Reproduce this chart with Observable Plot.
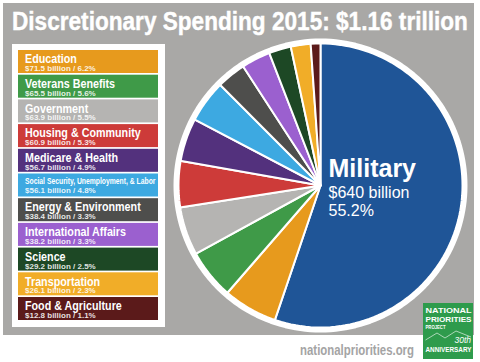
<!DOCTYPE html>
<html><head><meta charset="utf-8">
<script src="https://cdn.jsdelivr.net/npm/d3@7"></script>
<script src="https://cdn.jsdelivr.net/npm/@observablehq/plot@0.6"></script>
<style>
html,body{margin:0;padding:0;background:#fff;}
#wrap{position:relative;width:480px;height:362px;overflow:hidden;background:#fff;font-family:"Liberation Sans",Arial,sans-serif;}
#bg{position:absolute;left:3px;top:3px;width:471px;height:332px;background:#a9a8a6;}
#pie,#over{position:absolute;left:0;top:0;}
</style></head><body>
<div id="wrap"><div id="bg"></div><div id="pie"></div><svg id="over" width="480" height="362"></svg></div>
<script>
// ---- data ----
const titleText = "Discretionary Spending 2015: $1.16 trillion";
const sourceText = "nationalpriorities.org";
const mainName = "Military";
const mainAmount = 640;      // $ billion
const mainPercent = 55.2;
const mainColor = "#1f5597";
const categories = ["Education","Veterans Benefits","Government","Housing & Community","Medicare & Health","Social Security, Unemployment, & Labor","Energy & Environment","International Affairs","Science","Transportation","Food & Agriculture"];
const amounts = [71.5,65.5,63.9,60.9,56.7,56.1,38.4,38.2,29.2,26.1,12.8];
const percents = [6.2,5.6,5.5,5.3,4.9,4.8,3.3,3.3,2.5,2.3,1.1];
const colors = ["#e79a1d","#3f9a48","#b5b4b2","#cd3b39","#53317d","#3da9e1","#4e4e4c","#9b60cf","#1d4825","#f1ad28","#5b1a1a"];

// ---- pie geometry (computed, in unit-circle data space) ----
const slices = [{name: mainName, value: mainAmount}, ...categories.map((c, i) => ({name: c, value: amounts[i]}))];
const arcs = d3.pie().sort(null).value(d => d.value)(slices);
const pts = [];
for (const a of arcs) {
  const n = Math.max(2, Math.ceil((a.endAngle - a.startAngle) / (Math.PI / 180)));
  pts.push({name: a.data.name, x: 0, y: 0});
  for (let k = 0; k <= n; k++) {
    const t = a.startAngle + (a.endAngle - a.startAngle) * k / n;
    pts.push({name: a.data.name, x: Math.sin(t), y: Math.cos(t)});
  }
}
const ring = d3.range(0, 361, 2).map(d => ({x: Math.sin(d * Math.PI / 180), y: Math.cos(d * Math.PI / 180)}));

const cx = 320, cy = 185, R = 144;
const chart = Plot.plot({
  width: 480, height: 362, margin: 0,
  style: {background: "transparent", fontFamily: "'Liberation Sans', Arial, sans-serif"},
  x: {domain: [-1, 1], range: [cx - R, cx + R], axis: null},
  y: {domain: [-1, 1], range: [cy + R, cy - R], axis: null},
  color: {domain: [mainName, ...categories], range: [mainColor, ...colors]},
  marks: [
    Plot.line(pts, {x: "x", y: "y", z: "name", fill: "name", stroke: "white", strokeWidth: 2, curve: "linear-closed", strokeLinejoin: "round"}),
    Plot.line(ring, {x: "x", y: "y", stroke: "white", strokeWidth: 6, curve: "linear-closed"}),
    Plot.text([mainName], {x: () => 0, y: () => 0, text: d => d, dx: 8, dy: -9, textAnchor: "start", lineAnchor: "bottom", fill: "white", fontSize: 25, fontWeight: "bold"}),
    Plot.text([`$${mainAmount} billion`], {x: () => 0, y: () => 0, text: d => d, dx: 8, dy: 12, textAnchor: "start", lineAnchor: "bottom", fill: "white", fontSize: 16}),
    Plot.text([`${mainPercent}%`], {x: () => 0, y: () => 0, text: d => d, dx: 8, dy: 30, textAnchor: "start", lineAnchor: "bottom", fill: "white", fontSize: 16})
  ]
});
document.getElementById("pie").appendChild(chart);

// ---- title, legend, footer ----
const svg = d3.select("#over").style("font-family", "'Liberation Sans', Arial, sans-serif");
function fitText(sel, target) {
  const w = sel.node().getComputedTextLength();
  return target / w;
}
const tg = svg.append("g");
const tt = tg.append("text").text(titleText).attr("fill", "white").attr("font-weight", "bold").attr("font-size", 25)
  .attr("stroke", "white").attr("stroke-width", 0.4);
tg.attr("transform", `translate(12,29.5) scale(${fitText(tt, 456)},1)`);

svg.append("rect").attr("x", 12).attr("y", 44).attr("width", 153).attr("height", 283).attr("fill", "white");
const rowTop = i => 50 + i * 24.7;
categories.forEach((c, i) => {
  const small = c.length > 25;
  svg.append("rect").attr("x", 18).attr("y", rowTop(i)).attr("width", 140).attr("height", 23).attr("fill", colors[i]);
  svg.append("text").text(c)
    .attr("transform", `translate(25,${rowTop(i) + (small ? 10.5 : 13.2)}) scale(${small ? 0.8 : 0.86},1)`)
    .attr("fill", "white").attr("font-weight", "bold").attr("font-size", small ? 8.5 : 12.5);
  svg.append("text").text(`$${amounts[i].toFixed(1)} billion / ${percents[i].toFixed(1)}%`)
    .attr("x", 25).attr("y", rowTop(i) + (small ? 19.5 : 21))
    .attr("fill", "white").attr("fill-opacity", 0.88).attr("font-weight", "bold").attr("font-size", 8);
});

svg.append("text").text(sourceText)
  .attr("transform", "translate(414,355) scale(0.76,1)")
  .attr("text-anchor", "end").attr("fill", "#a4a4a4").attr("font-weight", "bold").attr("font-size", 15);

// logo
const lg = svg.append("g");
lg.append("rect").attr("x", 423).attr("y", 303).attr("width", 50).attr("height", 56).attr("fill", "#2e9b4c");
const logoLines = [["NATIONAL", 312.5, 8, 46], ["PRIORITIES", 321.8, 8, 46], ["PROJECT", 329.3, 5, 20], ["ANNIVERSARY", 351.8, 6.5, 46]];
logoLines.forEach(([t, y, fs, w]) => {
  lg.append("text").text(t).attr("x", 425.5).attr("y", y).attr("font-size", fs).attr("font-weight", "bold")
    .attr("fill", "white").attr("textLength", w).attr("lengthAdjust", "spacingAndGlyphs");
});
lg.append("path").attr("d", "M425.5,340 L437,333 L445,338 L456,331 L471,337").attr("fill", "none").attr("stroke", "white").attr("stroke-width", 0.6);
lg.append("text").text("30th").attr("x", 471).attr("y", 343.3).attr("text-anchor", "end").attr("font-size", 8.5).attr("font-style", "italic").attr("fill", "white");
</script>
</body></html>
